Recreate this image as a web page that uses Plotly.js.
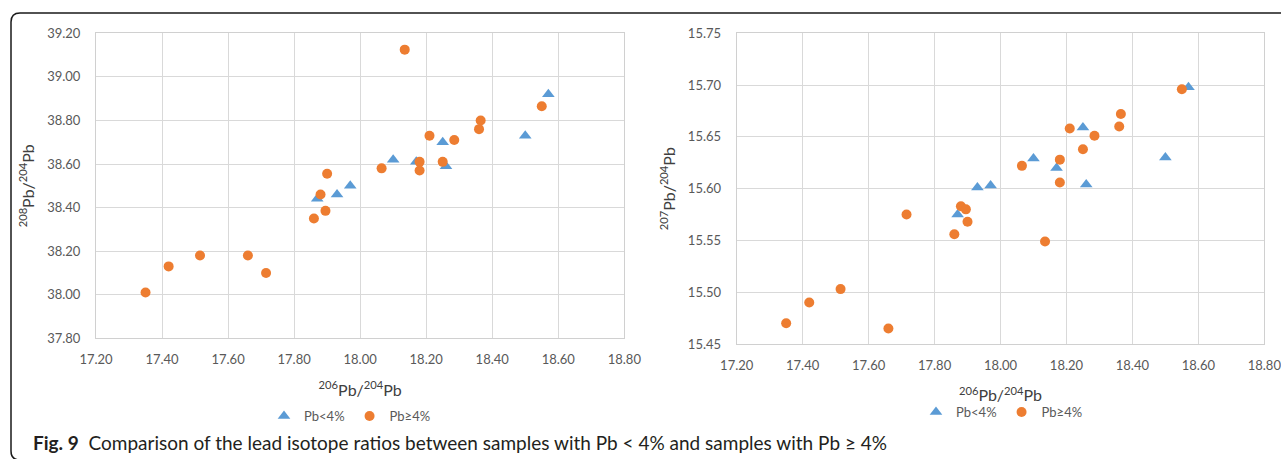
<!DOCTYPE html>
<html>
<head>
<meta charset="utf-8">
<script src="https://cdn.plot.ly/plotly-3.0.1.min.js"></script>
<style>
html,body{margin:0;padding:0;background:#fff;}
#chart{width:1281px;height:459px;}
</style>
</head>
<body>
<div id="chart"></div>
<script>
// ---- data ----
const seriesNames = ["Pb<4%", "Pb≥4%"];

// samples with Pb < 4%
const low206 = [17.87, 17.93, 17.97, 18.10, 18.17, 18.25, 18.26, 18.50, 18.57];
const low208 = [38.44, 38.46, 38.50, 38.62, 38.61, 38.70, 38.59, 38.73, 38.92];
const low207 = [15.575, 15.601, 15.603, 15.629, 15.620, 15.659, 15.604, 15.630, 15.698];

// samples with Pb >= 4%
const high206 = [17.35, 17.42, 17.515, 17.66, 17.715, 17.86, 17.88, 17.895, 17.90, 18.065, 18.135, 18.18, 18.18, 18.21, 18.25, 18.285, 18.36, 18.365, 18.55];
const high208 = [38.01, 38.13, 38.18, 38.18, 38.10, 38.35, 38.46, 38.385, 38.555, 38.58, 39.125, 38.61, 38.57, 38.73, 38.61, 38.71, 38.76, 38.80, 38.865];
const high207 = [15.470, 15.490, 15.503, 15.465, 15.575, 15.556, 15.583, 15.580, 15.568, 15.622, 15.549, 15.628, 15.606, 15.658, 15.638, 15.651, 15.660, 15.672, 15.696];

const xTitle = "<sup>206</sup>Pb/<sup>204</sup>Pb";
const yTitleLeft = "<sup>208</sup>Pb/<sup>204</sup>Pb";
const yTitleRight = "<sup>207</sup>Pb/<sup>204</sup>Pb";
const caption = "<b>Fig. 9</b>  Comparison of the lead isotope ratios between samples with Pb < 4% and samples with Pb ≥ 4%";

// ---- styling ----
const BLUE = "#5B9BD5", ORANGE = "#ED7D31";
const W = 1281, H = 459;
const px = v => v / W, py = v => 1 - v / H;

const tri = {symbol: "triangle-up", size: 11, color: BLUE};
const dot = {symbol: "circle", size: 10, color: ORANGE};

const traces = [
  {type: "scatter", mode: "markers", name: seriesNames[0], x: low206, y: low208, xaxis: "x", yaxis: "y", marker: tri, legend: "legend"},
  {type: "scatter", mode: "markers", name: seriesNames[1], x: high206, y: high208, xaxis: "x", yaxis: "y", marker: dot, legend: "legend"},
  {type: "scatter", mode: "markers", name: seriesNames[0], x: low206, y: low207, xaxis: "x2", yaxis: "y2", marker: tri, legend: "legend2"},
  {type: "scatter", mode: "markers", name: seriesNames[1], x: high206, y: high207, xaxis: "x2", yaxis: "y2", marker: dot, legend: "legend2"}
];

const FONT = "Lato, 'Open Sans', sans-serif";
const tickFont = {family: FONT, size: 13, color: "#595959"};
const titleFont = {family: FONT, size: 16, color: "#404040"};

function xAxis(domain, anchor) {
  return {
    domain: domain, anchor: anchor, range: [17.2, 18.8], dtick: 0.2, tick0: 17.2, tickformat: ".2f",
    showgrid: true, gridcolor: "#d9d9d9", gridwidth: 1, zeroline: false,
    showline: true, linecolor: "#d0d0d0", linewidth: 1, mirror: true,
    ticks: "", ticklabelstandoff: 9, ticklabeloverflow: "allow", tickfont: tickFont,
    title: {text: xTitle, font: titleFont, standoff: 18},
    fixedrange: true
  };
}
function yAxis(domain, anchor, range, dtick, fmt, title) {
  return {
    domain: domain, anchor: anchor, range: range, dtick: dtick, tick0: range[0], tickformat: fmt,
    showgrid: true, gridcolor: "#d9d9d9", gridwidth: 1, zeroline: false,
    showline: true, linecolor: "#d0d0d0", linewidth: 1, mirror: true,
    ticks: "", ticklabelstandoff: 12, ticklabeloverflow: "allow", tickfont: tickFont,
    title: {text: title, font: titleFont, standoff: 8},
    fixedrange: true
  };
}

const r = 9;
const L = 11, T = 13, B = 460;
const borderPath =
  `M ${px(W + 5)} ${py(T)} L ${px(L + r)} ${py(T)} Q ${px(L)} ${py(T)} ${px(L)} ${py(T + r)} ` +
  `L ${px(L)} ${py(B - r)} Q ${px(L)} ${py(B)} ${px(L + r)} ${py(B)} L ${px(W + 5)} ${py(B)}`;

const legendCommon = {
  orientation: "h", xanchor: "center", yanchor: "middle",
  font: {family: FONT, size: 13, color: "#595959"},
  bgcolor: "rgba(0,0,0,0)", itemsizing: "trace", itemwidth: 30, tracegroupgap: 0
};

const layout = {
  width: W, height: H,
  margin: {l: 0, r: 0, t: 0, b: 0},
  paper_bgcolor: "#fff", plot_bgcolor: "#fff",
  showlegend: true,
  xaxis: xAxis([px(96), px(624.3)], "y"),
  yaxis: yAxis([1 - 338.3 / H, 1 - 33.3 / H], "x", [37.8, 39.2], 0.2, ".2f", yTitleLeft),
  xaxis2: xAxis([px(736.7), px(1264.3)], "y2"),
  yaxis2: yAxis([1 - 344 / H, 1 - 33.3 / H], "x2", [15.45, 15.75], 0.05, ".2f", yTitleRight),
  legend: Object.assign({x: px(350), y: py(416)}, legendCommon),
  legend2: Object.assign({x: px(1002), y: py(412)}, legendCommon),
  shapes: [{type: "path", xref: "paper", yref: "paper", path: borderPath, line: {color: "#1a1a1a", width: 1.5}, layer: "above"}],
  annotations: [{
    xref: "paper", yref: "paper", x: px(31), y: py(442), xanchor: "left", yanchor: "middle",
    text: caption, showarrow: false,
    font: {family: FONT, size: 19, color: "#231f20"}
  }]
};

Plotly.newPlot("chart", traces, layout, {displayModeBar: false, staticPlot: true});
</script>
</body>
</html>
